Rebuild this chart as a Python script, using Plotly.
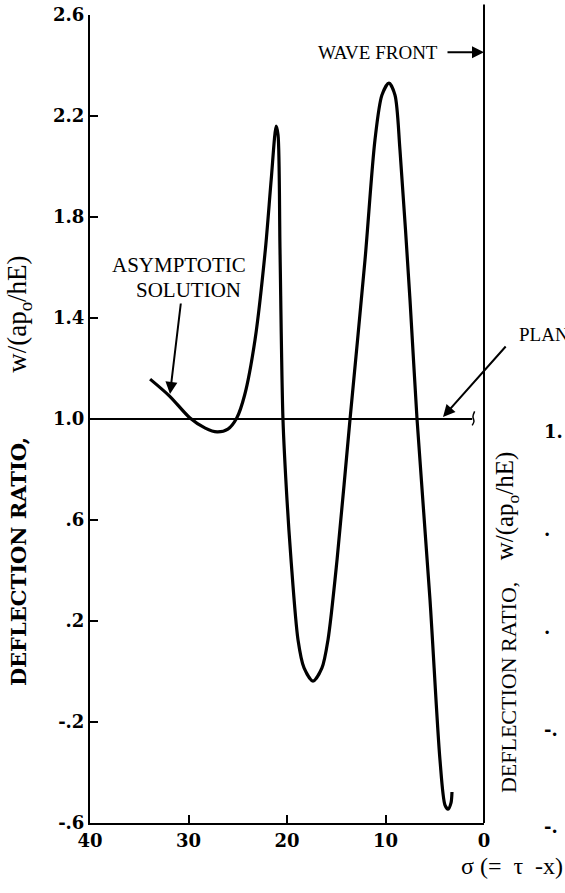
import plotly.graph_objects as go

# Deflection ratio behind the wave front, sigma = tau - x
sigma = [33.9, 31.9, 29.85, 28.3, 27.1, 26.0, 25.1, 24.3, 23.25, 22.2, 21.6, 21.1,
         20.91, 20.71, 20.41, 20.0, 19.59, 18.88, 18.27, 17.36, 16.45, 15.84, 14.92,
         13.6, 12.08, 11.07, 10.36, 9.65, 9.04, 8.53, 7.51, 6.8, 5.48,
         4.47, 3.96, 3.65, 3.35, 3.25]
deflection = [1.158, 1.09, 1.004, 0.964, 0.949, 0.96, 1.004, 1.095, 1.313, 1.67, 1.95, 2.16,
              2.125, 1.669, 1.0, 0.68, 0.442, 0.125, 0.014, -0.038, 0.014, 0.125, 0.442,
              1.0, 1.63, 2.105, 2.283, 2.33, 2.283, 2.065, 1.47, 1.0, 0.283,
              -0.35, -0.529, -0.545, -0.52, -0.477]

# Plane (static) solution level
plane_sigma = [40.0, 1.2]
plane_value = [1.0, 1.0]
break_sigma = [1.2, 1.02, 1.12, 0.95]
break_value = [0.975, 0.99, 1.01, 1.03]

x_ticks = [40, 30, 20, 10, 0]
y_ticks = [2.6, 2.2, 1.8, 1.4, 1.0, 0.6, 0.2, -0.2, -0.6]
y_tick_text = ["2.6", "2.2", "1.8", "1.4", "1.0", ".6", ".2", "-.2", "-.6"]

serif = "Liberation Serif"
heavy = "DejaVu Serif"

fig = go.Figure()
fig.add_trace(go.Scatter(x=plane_sigma, y=plane_value, mode="lines",
                         line=dict(color="black", width=2), hoverinfo="skip"))
fig.add_trace(go.Scatter(x=break_sigma, y=break_value, mode="lines",
                         line=dict(color="black", width=1.5, shape="spline"), hoverinfo="skip"))
fig.add_trace(go.Scatter(x=sigma, y=deflection, mode="lines",
                         line=dict(color="black", width=3.2, shape="spline", smoothing=0.8),
                         hoverinfo="skip"))

tick_font = dict(family=heavy, size=18, color="black", weight="bold")
fig.update_layout(
    width=565, height=893,
    margin=dict(l=90, r=81, t=15, b=70),
    paper_bgcolor="white", plot_bgcolor="white",
    showlegend=False,
    xaxis=dict(range=[40, 0], tickvals=x_ticks, ticktext=[str(v) for v in x_ticks],
               ticks="inside", ticklen=8, tickwidth=2, tickcolor="black", automargin=False,
               showline=True, linecolor="black", linewidth=2, showgrid=False, zeroline=False,
               tickfont=tick_font),
    yaxis=dict(range=[-0.6, 2.6], tickvals=y_ticks, ticktext=y_tick_text,
               ticks="inside", ticklen=8, tickwidth=2, tickcolor="black", automargin=False,
               showline=True, linecolor="black", linewidth=2, showgrid=False, zeroline=False,
               tickfont=tick_font),
)

# Wave front line at sigma = 0
fig.add_shape(type="line", xref="paper", yref="paper", x0=1.0, x1=1.0, y0=0, y1=1.013,
              line=dict(color="black", width=2))


def label(text, x, y, size, family=serif, angle=0, xanchor="center", bold=False):
    return dict(text=text, x=x, y=y, xref="paper", yref="paper", xanchor=xanchor,
                yanchor="middle", textangle=angle, showarrow=False,
                font=dict(family=family, size=size, color="black",
                          weight="bold" if bold else "normal"))


def arrow(x, y, ax, ay, xref="x", yref="y"):
    return dict(text="", x=x, y=y, xref=xref, yref=yref, showarrow=True, ax=ax, ay=ay,
                arrowhead=2, arrowsize=1.2, arrowwidth=2, arrowcolor="black")


ann = [
    label("ASYMPTOTIC", 0.226, 0.691, 21),
    label("SOLUTION", 0.251, 0.660, 21),
    arrow(31.88, 1.099, 11, -92),
    label("WAVE FRONT", 0.888, 0.954, 19, xanchor="right"),
    arrow(1.0, 0.954, -38, 0, xref="paper", yref="paper"),
    label("PLAN", 1.084, 0.604, 19, xanchor="left"),
    arrow(4.16, 1.008, 64, -72),
    label("σ (=  τ  -x)", 1.206, -0.053, 24, xanchor="right"),
    # left axis title
    label("DEFLECTION RATIO,", -0.183, 0.324, 21, family=heavy, angle=-90, bold=True),
    label("w/(ap<sub>o</sub>/hE)", -0.180, 0.629, 27, angle=-90),
    # axis title of the neighbouring panel
    label("DEFLECTION RATIO,", 1.061, 0.167, 22, angle=-90),
    label("w/(ap<sub>o</sub>/hE)", 1.058, 0.393, 25, angle=-90),
]
for txt, yy in [("1.", 0.484), (".", 0.363), (".", 0.242), ("-.", 0.116), ("-.", -0.004)]:
    ann.append(label(txt, 1.148, yy, 18, family=heavy, xanchor="left", bold=True))
fig.update_layout(annotations=ann)

fig.write_html("out.html")
